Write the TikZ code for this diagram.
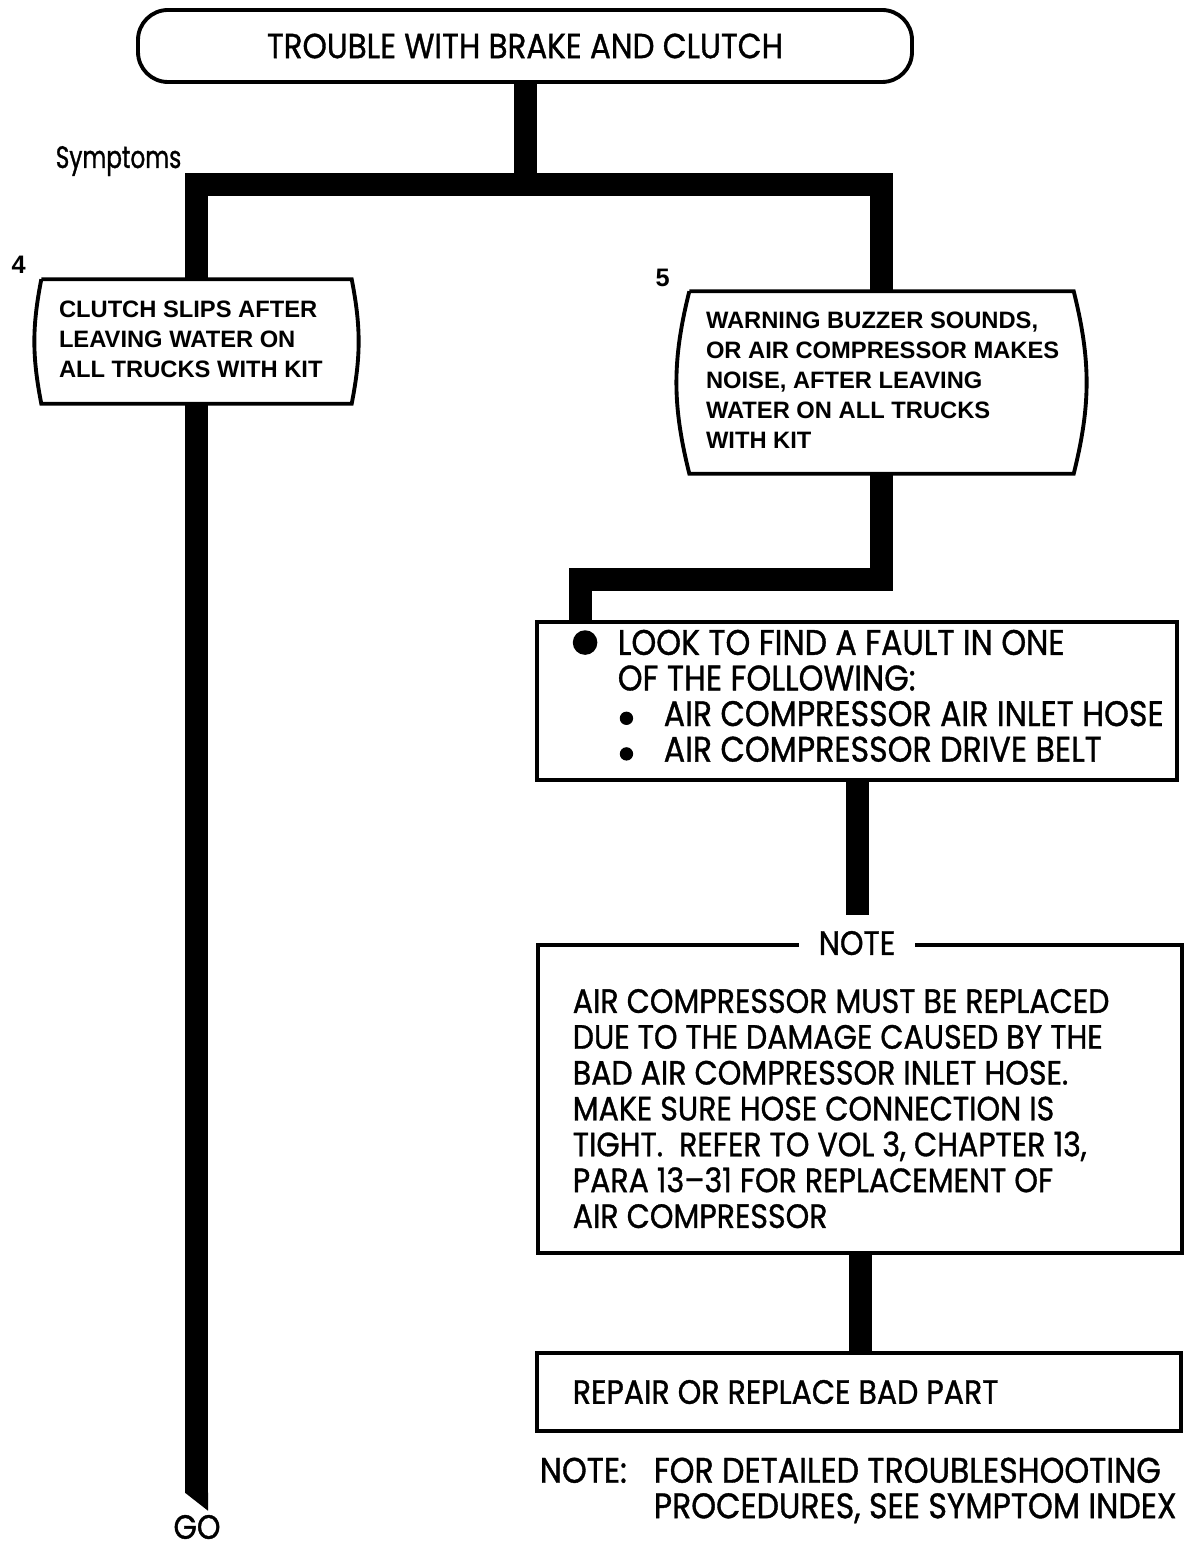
\documentclass[tikz,border=0pt]{standalone}
\usepackage{fontspec}
\setmainfont[FakeStretch=0.89, FakeBold=1]{Poppins}
\newfontfamily\symfamily[FakeStretch=0.75, FakeBold=1]{Poppins}
\newfontfamily\tagfamily{Liberation Sans}
\usetikzlibrary{positioning}

\newcommand{\bigdot}{\tikz[baseline=0pt]\fill (0pt,3.5pt) circle (3.5pt);}
\newcommand{\smalldot}{\tikz[baseline=0pt]\fill (0pt,2.2pt) circle (1.9pt);}

\begin{document}
\begin{tikzpicture}[x=0.1mm, y=-0.1mm,
    flow/.style={line width=2.3mm, line join=miter},
    titlebox/.style={draw, line width=1.1pt, rounded corners=3mm, minimum width=77.4mm, minimum height=7.2mm, font=\fontsize{9.9}{11}\selectfont},
    tagbox/.style={inner sep=0pt},
    tagtext/.style={inner sep=0pt, font=\tagfamily\bfseries\fontsize{6.75}{8.5}\selectfont},
    tagline/.style={line width=1.1pt},
    num/.style={inner sep=0pt, font=\tagfamily\bfseries\fontsize{7.2}{8}\selectfont},
    box/.style={draw, line width=1.1pt, inner sep=0pt},
    body/.style={inner sep=0pt, font=\fontsize{9.6}{10.2}\selectfont}]

    \useasboundingbox (0,0) rectangle (1190,1547);

    % top of the chart
    \node[titlebox] (title) at (525,46) {TROUBLE WITH BRAKE AND CLUTCH};
    \coordinate (branch) at (525,185);
    \node[body, anchor=base east, font=\symfamily\fontsize{8.8}{10}\selectfont] (symptoms) at (182,168) {Symptoms};

    % symptom boxes
    \node[tagbox, minimum width=30.9mm, minimum height=12.3mm] (box4) at (196.5,341.5) {};
    \node[tagbox, minimum width=38.3mm, minimum height=18.1mm] (box5) at (881.5,382.5) {};
    \foreach \tag/\bulge in {box4/11, box5/14} {
        \draw[tagline] (\tag.north west) -- (\tag.north east) to[bend left=\bulge] (\tag.south east)
            -- (\tag.south west) to[bend left=\bulge] (\tag.north west);
    }
    \node[tagtext, anchor=west] (box4text) at ([xshift=1.7mm]box4.west)
        {\begin{tabular}{@{}l@{}}CLUTCH SLIPS AFTER\\LEAVING WATER ON\\ALL TRUCKS WITH KIT\end{tabular}};
    \node[tagtext, anchor=west] (box5text) at ([xshift=1.6mm]box5.west)
        {\begin{tabular}{@{}l@{}}WARNING BUZZER SOUNDS,\\OR AIR COMPRESSOR MAKES\\NOISE, AFTER LEAVING\\WATER ON ALL TRUCKS\\WITH KIT\end{tabular}};
    \node[num, above left=0.5mm and 1.5mm of box4.north west] (n4) {4};
    \node[num, above left=0.4mm and 1.9mm of box5.north west] (n5) {5};

    % right column
    \node[box, minimum width=64mm, minimum height=15.8mm] (fault) at (857,701) {};
    \node[body, anchor=west, font=\fontsize{10.1}{10}\selectfont] (faulttext) at ([xshift=3.7mm]fault.west)
        {\begin{tabular}{@{}l@{}}
        \makebox[4.5mm][l]{\bigdot}LOOK TO FIND A FAULT IN ONE\\
        \hspace*{4.5mm}OF THE FOLLOWING:\\
        \hspace*{4.7mm}\makebox[4.4mm][l]{\smalldot}AIR COMPRESSOR AIR INLET HOSE\\
        \hspace*{4.7mm}\makebox[4.4mm][l]{\smalldot}AIR COMPRESSOR DRIVE BELT
        \end{tabular}};
    \node[box, minimum width=64.4mm, minimum height=30.8mm] (note) at (860,1099) {};
    \node[body, fill=white, inner xsep=0pt, inner ysep=1.5mm, minimum width=11.6mm] (notelabel) at ([xshift=-0.3mm]note.north) {NOTE};
    \node[body, anchor=north west] (notebody) at ([shift={(36,44)}]note.north west)
        {\begin{tabular}{@{}l@{}}
        AIR COMPRESSOR MUST BE REPLACED\\
        DUE TO THE DAMAGE CAUSED BY THE\\
        BAD AIR COMPRESSOR INLET HOSE.\\
        MAKE SURE HOSE CONNECTION IS\\
        TIGHT.\ \ REFER TO VOL 3, CHAPTER 13,\\
        PARA 13--31 FOR REPLACEMENT OF\\
        AIR COMPRESSOR
        \end{tabular}};
    \node[box, minimum width=64.4mm, minimum height=7.8mm] (repair) at (859,1392) {};
    \node[body, anchor=west] (repairtext) at ([xshift=3.7mm]repair.west) {REPAIR OR REPLACE BAD PART};
    \node[body, anchor=north west, font=\fontsize{10.1}{9.9}\selectfont] (footnote) at ([shift={(4,24)}]repair.south west)
        {\begin{tabular}{@{}p{11.4mm}@{}l@{}}NOTE: & FOR DETAILED TROUBLESHOOTING\\ & PROCEDURES, SEE SYMPTOM INDEX\end{tabular}};

    % left column
    \node[body] (go) at (197,1527) {GO};
    \path (box4.south) ++(0,1089) coordinate (goend);
    \coordinate (jog) at (580,580);

    % connectors
    \draw[flow] (title.south) -- (branch);
    \draw[flow] (box4.north) |- (branch) -| (box5.north);
    \draw[flow] (box4.south) -- (goend);
    \fill ([xshift=-1.15mm]goend) -- ([xshift=1.15mm]goend) -- ([shift={(11.5,18)}]goend) -- cycle;
    \draw[flow] (box5.south) |- (jog) -- (jog |- fault.north);
    \draw[flow] (fault.south) -- (fault.south |- notelabel.north);
    \draw[flow] (note.south) -- (note.south |- repair.north);
\end{tikzpicture}
\end{document}
